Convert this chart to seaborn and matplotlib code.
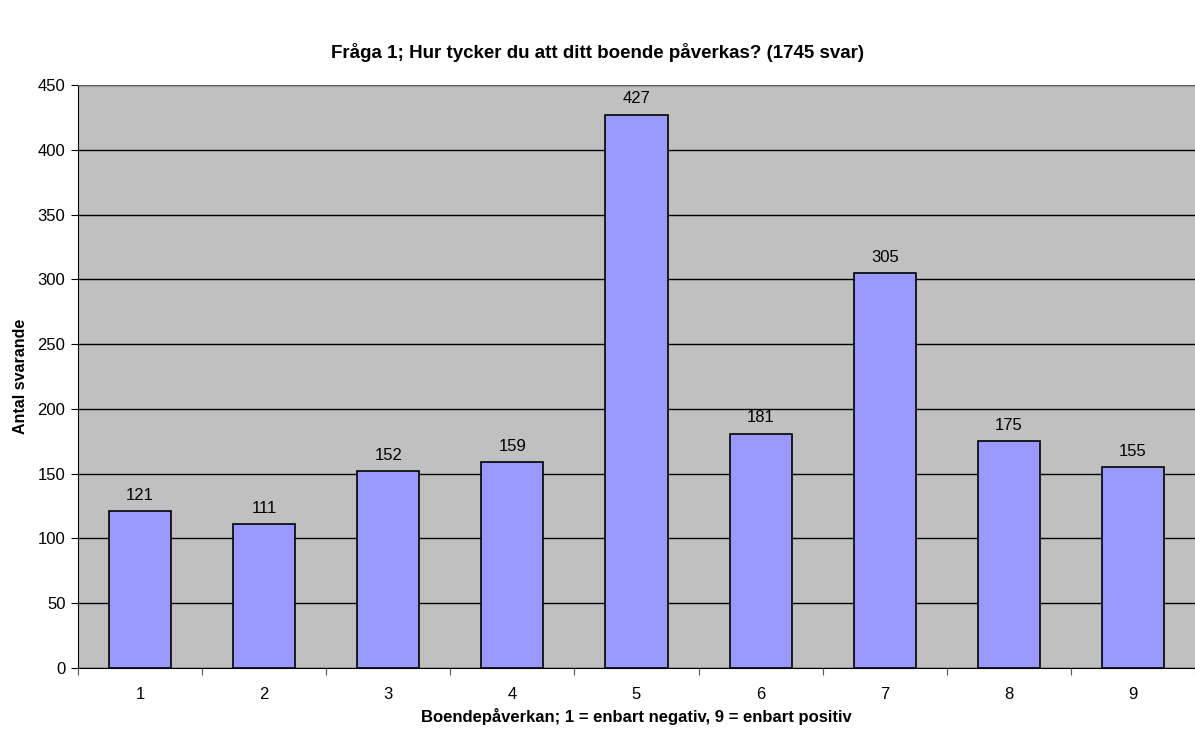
import numpy as np
import pandas as pd
import seaborn as sns
import matplotlib
matplotlib.use('Agg')
import matplotlib.pyplot as plt

# Data
categories = ['1', '2', '3', '4', '5', '6', '7', '8', '9']
counts = [121, 111, 152, 159, 427, 181, 305, 175, 155]

title = 'Fråga 1; Hur tycker du att ditt boende påverkas? (1745 svar)'
xlabel = 'Boendepåverkan; 1 = enbart negativ, 9 = enbart positiv'
ylabel = 'Antal svarande'

sns.set_style('white')
plt.rcParams['font.family'] = ['Liberation Sans', 'DejaVu Sans']
plt.rcParams['text.color'] = 'black'
plt.rcParams['axes.labelcolor'] = 'black'
plt.rcParams['xtick.color'] = 'black'
plt.rcParams['ytick.color'] = 'black'

df = pd.DataFrame({'cat': categories, 'n': counts})

fig = plt.figure(figsize=(11.95, 7.29), dpi=100)
ax = fig.add_axes([78 / 1195, 61 / 729, 1 - 78 / 1195, (668 - 85) / 729])
ax.set_facecolor('#c0c0c0')

sns.barplot(data=df, x='cat', y='n', color='#9999ff', width=0.5,
            edgecolor='black', linewidth=1.2, saturation=1, ax=ax, zorder=3)

ax.set_ylim(0, 450)
ax.set_xlim(-0.5, len(categories) - 0.5)
ax.set_yticks(np.arange(0, 451, 50))
ax.yaxis.grid(True, color='black', linewidth=1.0, zorder=0)
ax.set_axisbelow(True)

# ticks between categories like Excel
ax.set_xticks(np.arange(len(categories)))
ax.set_xticklabels(categories)
ax.set_xticks(np.arange(-0.5, len(categories)), minor=True)
ax.tick_params(axis='x', which='major', bottom=True, length=0, pad=14, labelsize=12)
ax.tick_params(axis='x', which='minor', bottom=True, length=5, width=0.8, color='#555555')
ax.tick_params(axis='y', left=True, length=5, width=0.8, labelsize=12, pad=4)

ax.spines['right'].set_visible(False)
ax.spines['top'].set_color('#666666')
ax.spines['left'].set_color('black')
ax.spines['bottom'].set_color('black')

for i, v in enumerate(counts):
    ax.annotate(str(v), (i, v), xytext=(0, 6), textcoords='offset points',
                ha='center', va='bottom', fontsize=12)

ax.set_xlabel(xlabel, fontsize=12, fontweight='bold', labelpad=4)
ax.set_ylabel(ylabel, fontsize=11.5, fontweight='bold', labelpad=7)
fig.text(0.5, 1 - 53 / 729, title, ha='center', va='center',
         fontsize=13.5, fontweight='bold')

fig.savefig('out.png', dpi=100)
